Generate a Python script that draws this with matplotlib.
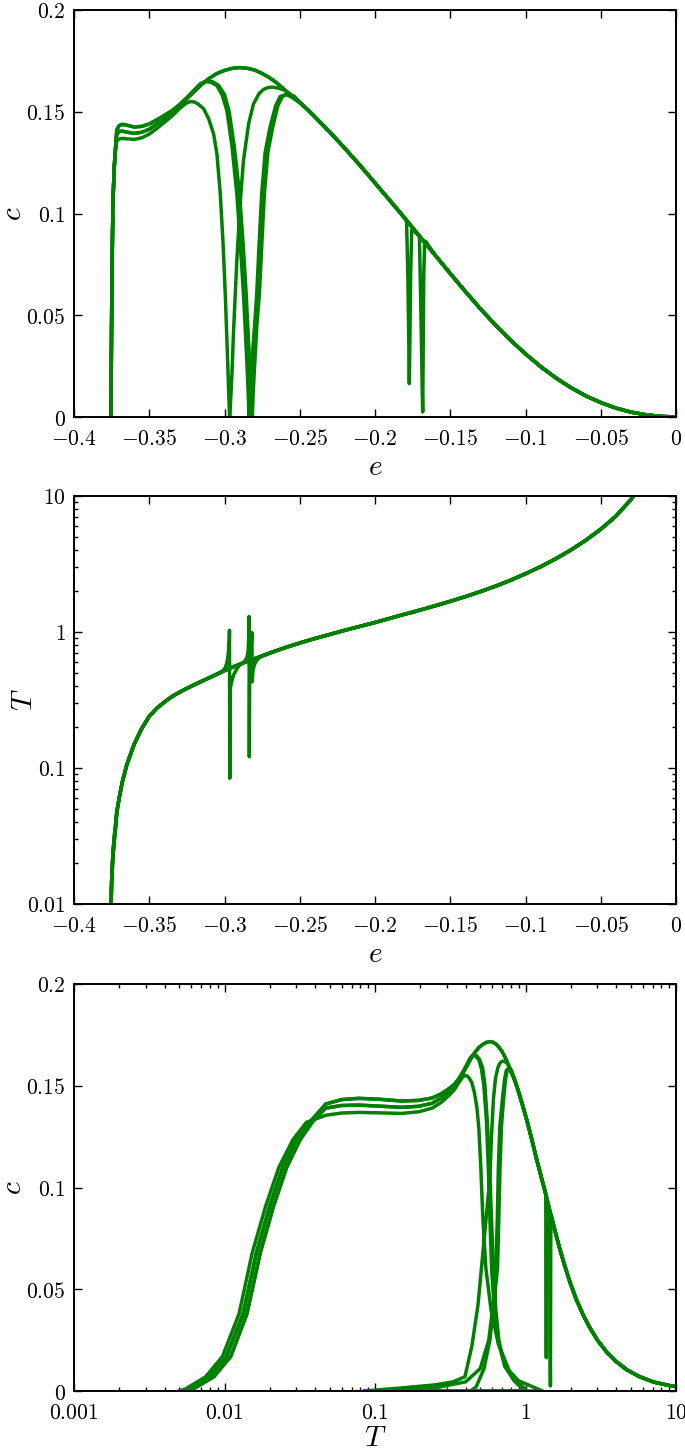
import numpy as np
import matplotlib
matplotlib.use("Agg")
import matplotlib.pyplot as plt
from matplotlib.ticker import FixedLocator, FixedFormatter, LogLocator, NullFormatter

plt.rcParams['mathtext.fontset'] = 'cm'
plt.rcParams['font.family'] = ['DejaVu Serif']

GREEN = '#008000'

# ---------------- data (e = energy, T = temperature, c = specific heat) ----------------
# low-temperature rise (the runs differ slightly in T here)
e_rise = [-0.3755, -0.3755, -0.3754, -0.3753, -0.3751, -0.3748, -0.3744, -0.3739, -0.3732, -0.3724]
c_rise = [0.000, 0.001, 0.007, 0.017, 0.038, 0.068, 0.091, 0.110, 0.1235, 0.132]
T_rise_a = [0.0050, 0.0055, 0.0075, 0.0097, 0.0125, 0.0153, 0.0188, 0.0230, 0.0285, 0.0350]
T_rise_b = [0.0053, 0.0058, 0.0080, 0.0103, 0.0133, 0.0163, 0.0200, 0.0244, 0.0301, 0.0366]
T_rise_c = [0.0056, 0.0062, 0.0085, 0.0110, 0.0141, 0.0173, 0.0212, 0.0259, 0.0318, 0.0382]

# plateau
e_plat = [-0.3716, -0.3700, -0.3680, -0.3650, -0.3600, -0.3550, -0.3500, -0.3450, -0.3400, -0.3350]
T_plat = [0.047, 0.060, 0.078, 0.105, 0.150, 0.195, 0.240, 0.275, 0.305, 0.335]
c_plat_hi = [0.1410, 0.1432, 0.1438, 0.1434, 0.1425, 0.1428, 0.1440, 0.1460, 0.1482, 0.1505]
c_plat_mid = [0.1390, 0.1403, 0.1405, 0.1400, 0.1394, 0.1399, 0.1414, 0.1440, 0.1466, 0.1495]
c_plat_lo = [0.1355, 0.1366, 0.1369, 0.1367, 0.1364, 0.1372, 0.1390, 0.1418, 0.1448, 0.1478]

# common high-energy branch
e_env = [-0.330, -0.325, -0.320, -0.315, -0.310, -0.305, -0.300, -0.295, -0.290, -0.285,
         -0.280, -0.275, -0.270, -0.265, -0.260, -0.255, -0.250, -0.245, -0.240, -0.230,
         -0.220, -0.210, -0.200, -0.190, -0.180, -0.170, -0.160, -0.150, -0.140, -0.130,
         -0.120, -0.110, -0.100, -0.090, -0.080, -0.070, -0.060, -0.050, -0.040, -0.030,
         -0.020, -0.010, -0.003, 0.000]
T_env = [0.360, 0.385, 0.410, 0.435, 0.462, 0.490, 0.520, 0.550, 0.578, 0.607,
         0.637, 0.668, 0.700, 0.732, 0.765, 0.797, 0.830, 0.862, 0.895, 0.960,
         1.030, 1.100, 1.175, 1.260, 1.355, 1.450, 1.560, 1.680, 1.820, 1.980,
         2.170, 2.400, 2.680, 3.020, 3.450, 4.000, 4.720, 5.700, 7.100, 9.400,
         14.0, 25.0, 50.0, 100.0]
c_env = [0.1530, 0.1565, 0.1600, 0.1635, 0.1665, 0.1688, 0.1703, 0.1713, 0.1717, 0.1714,
         0.1705, 0.1688, 0.1667, 0.1640, 0.1608, 0.1575, 0.1545, 0.1512, 0.1475, 0.1400,
         0.1320, 0.1237, 0.1150, 0.1063, 0.0975, 0.0885, 0.0795, 0.0705, 0.0617, 0.0532,
         0.0452, 0.0378, 0.0310, 0.0248, 0.0193, 0.0145, 0.0104, 0.0071, 0.0044, 0.0024,
         0.0011, 0.0003, 0.0001, 0.0000]

# run A: large dip near e = -0.297
e_A = [-0.3350, -0.3300, -0.3255, -0.3226, -0.3200, -0.3175, -0.3139, -0.3105, -0.3072, -0.3050,
       -0.3028, -0.3010, -0.2995, -0.2985, -0.2977, -0.2971, -0.2968, -0.2967, -0.2965, -0.2964,
       -0.2963, -0.2962, -0.2960, -0.2950, -0.2940, -0.2918, -0.2896, -0.2874, -0.2840, -0.2808,
       -0.2770, -0.2740, -0.2710, -0.2680, -0.2640, -0.2600]
T_A = [0.335, 0.360, 0.382, 0.396, 0.410, 0.422, 0.440, 0.458, 0.476, 0.490,
       0.505, 0.520, 0.545, 0.590, 0.660, 0.780, 0.900, 1.030, 0.084, 0.150,
       0.250, 0.330, 0.396, 0.440, 0.483, 0.535, 0.580, 0.595, 0.613, 0.632,
       0.656, 0.675, 0.694, 0.713, 0.738, 0.765]
c_A = [0.1478, 0.1515, 0.1542, 0.1550, 0.1548, 0.1538, 0.1515, 0.1465, 0.1390, 0.1290,
       0.1096, 0.0860, 0.0605, 0.0400, 0.0230, 0.0100, 0.0040, 0.0000, 0.0000, 0.0015,
       0.0030, 0.0045, 0.0070, 0.0220, 0.0420, 0.0769, 0.1050, 0.1260, 0.1440, 0.1537,
       0.1590, 0.1610, 0.1619, 0.1621, 0.1616, 0.1606]

# run B: dip near e = -0.2836
e_B = [-0.3300, -0.3250, -0.3200, -0.3160, -0.3125, -0.3090, -0.3050, -0.3015, -0.2984, -0.2950,
       -0.2918, -0.2895, -0.2874, -0.2860, -0.2850, -0.2843, -0.2839, -0.2837, -0.2835, -0.2834,
       -0.2833, -0.2830, -0.2820, -0.2800, -0.2786, -0.2770, -0.2753, -0.2730, -0.2698, -0.2660,
       -0.2630, -0.2590, -0.2550, -0.2500]
T_B = [0.360, 0.385, 0.410, 0.430, 0.448, 0.467, 0.490, 0.510, 0.528, 0.550,
       0.566, 0.580, 0.595, 0.620, 0.655, 0.730, 0.900, 1.300, 0.121, 0.250,
       0.400, 0.500, 0.570, 0.615, 0.635, 0.650, 0.660, 0.675, 0.700, 0.725,
       0.745, 0.771, 0.797, 0.830]
c_B = [0.1530, 0.1565, 0.1605, 0.1635, 0.1648, 0.1645, 0.1628, 0.1582, 0.1505, 0.1330,
       0.1096, 0.0850, 0.0605, 0.0400, 0.0250, 0.0120, 0.0050, 0.0000, 0.0000, 0.0015,
       0.0045, 0.0110, 0.0250, 0.0450, 0.0605, 0.0850, 0.1096, 0.1300, 0.1423, 0.1530,
       0.1575, 0.1585, 0.1570, 0.1545]

# run C: dip near e = -0.2817
e_C = [-0.3300, -0.3250, -0.3200, -0.3160, -0.3120, -0.3080, -0.3040, -0.3000, -0.2970, -0.2935,
       -0.2900, -0.2876, -0.2856, -0.2842, -0.2832, -0.2825, -0.2821, -0.2818, -0.2816, -0.2814,
       -0.2810, -0.2800, -0.2785, -0.2768, -0.2752, -0.2735, -0.2712, -0.2680, -0.2645, -0.2615,
       -0.2575, -0.2535, -0.2490]
T_C = [0.360, 0.385, 0.410, 0.430, 0.450, 0.472, 0.495, 0.520, 0.537, 0.557,
       0.578, 0.594, 0.612, 0.635, 0.665, 0.730, 0.840, 0.990, 0.430, 0.470,
       0.530, 0.580, 0.620, 0.652, 0.665, 0.677, 0.692, 0.713, 0.736, 0.756,
       0.782, 0.808, 0.837]
c_C = [0.1535, 0.1570, 0.1608, 0.1638, 0.1652, 0.1648, 0.1630, 0.1585, 0.1505, 0.1330,
       0.1096, 0.0850, 0.0605, 0.0400, 0.0250, 0.0120, 0.0050, 0.0000, 0.0000, 0.0020,
       0.0110, 0.0250, 0.0450, 0.0605, 0.0850, 0.1096, 0.1300, 0.1423, 0.1530, 0.1575,
       0.1590, 0.1575, 0.1540]

# run D: narrow dip near e = -0.177
e_D = [-0.1795, -0.1790, -0.1782, -0.1776, -0.1772, -0.1768, -0.1763, -0.1756, -0.1748]
T_D = [1.360, 1.363, 1.368, 1.372, 1.375, 1.378, 1.381, 1.386, 1.393]
c_D = [0.0970, 0.0955, 0.0700, 0.0400, 0.0164, 0.0400, 0.0700, 0.0920, 0.0920]

# run E: narrow dip near e = -0.168
e_E = [-0.1712, -0.1705, -0.1697, -0.1690, -0.1686, -0.1683, -0.1680, -0.1676, -0.1670, -0.1662]
T_E = [1.440, 1.446, 1.452, 1.457, 1.461, 1.464, 1.467, 1.471, 1.477, 1.485]
c_E = [0.0895, 0.0885, 0.0600, 0.0300, 0.0120, 0.0025, 0.0300, 0.0700, 0.0865, 0.0862]

# ---------------- assemble runs from their pieces ----------------
def pick(e, T, c, lo=-np.inf, hi=np.inf):
    e = np.asarray(e); T = np.asarray(T); c = np.asarray(c)
    m = (e > lo) & (e < hi)
    return e[m], T[m], c[m]

def join(*parts):
    return tuple(np.concatenate([np.asarray(p[i]) for p in parts]) for i in range(3))

rise_a = (e_rise, T_rise_a, c_rise)
rise_b = (e_rise, T_rise_b, c_rise)
rise_c = (e_rise, T_rise_c, c_rise)

runs = [
    join(rise_a, pick(e_plat, T_plat, c_plat_lo, hi=-0.337), (e_A, T_A, c_A),
         pick(e_env, T_env, c_env, lo=-0.2575)),
    join(rise_b, pick(e_plat, T_plat, c_plat_mid), (e_B, T_B, c_B),
         pick(e_env, T_env, c_env, lo=-0.2475)),
    join(rise_c, pick(e_plat, T_plat, c_plat_hi), (e_C, T_C, c_C),
         pick(e_env, T_env, c_env, lo=-0.2475)),
    join(rise_b, pick(e_plat, T_plat, c_plat_hi), pick(e_env, T_env, c_env, hi=-0.1797),
         (e_D, T_D, c_D), pick(e_env, T_env, c_env, lo=-0.1745)),
    join(rise_c, pick(e_plat, T_plat, c_plat_mid), pick(e_env, T_env, c_env, hi=-0.1715),
         (e_E, T_E, c_E), pick(e_env, T_env, c_env, lo=-0.166)),
]

# ---------------- figure ----------------
W, H = 685, 1448
fig = plt.figure(figsize=(W / 100, H / 100), dpi=100)

left, right = 74, 676
def box(top, bottom):
    return [left / W, 1 - bottom / H, (right - left) / W, (bottom - top) / H]

ax1 = fig.add_axes(box(10, 417))
ax2 = fig.add_axes(box(496, 904))
ax3 = fig.add_axes(box(984, 1391))

LW = 2.5
for e, T, c in runs:
    ax1.plot(e, c, color=GREEN, lw=LW, solid_joinstyle='round')
    ax2.plot(e, T, color=GREEN, lw=LW, solid_joinstyle='round')
    ax3.plot(T, c, color=GREEN, lw=LW, solid_joinstyle='round')

e_ticks = [-0.4, -0.35, -0.3, -0.25, -0.2, -0.15, -0.1, -0.05, 0.0]
e_labels = ['$-0.4$', '$-0.35$', '$-0.3$', '$-0.25$', '$-0.2$', '$-0.15$', '$-0.1$', '$-0.05$', '$0$']
c_ticks = [0.0, 0.05, 0.1, 0.15, 0.2]
c_labels = ['$0$', '$0.05$', '$0.1$', '$0.15$', '$0.2$']
T_ticks_mid = [0.01, 0.1, 1, 10]
T_labels_mid = ['$0.01$', '$0.1$', '$1$', '$10$']
T_ticks_bot = [0.001, 0.01, 0.1, 1, 10]
T_labels_bot = ['$0.001$', '$0.01$', '$0.1$', '$1$', '$10$']

TICKFS = 15.5
LABFS = 21

def style(ax):
    for s in ax.spines.values():
        s.set_linewidth(1.4)
    ax.tick_params(which='both', direction='in', top=True, right=True, width=1.0,
                   labelsize=TICKFS)
    ax.tick_params(axis='x', which='both', pad=8)
    ax.tick_params(axis='y', which='both', pad=6)
    ax.tick_params(which='major', length=5.5)
    ax.tick_params(which='minor', length=3)

# top
ax1.set_xlim(-0.4, 0)
ax1.set_ylim(0, 0.2)
ax1.xaxis.set_major_locator(FixedLocator(e_ticks))
ax1.xaxis.set_major_formatter(FixedFormatter(e_labels))
ax1.yaxis.set_major_locator(FixedLocator(c_ticks))
ax1.yaxis.set_major_formatter(FixedFormatter(c_labels))
style(ax1)
ax1.set_xlabel('$e$', fontsize=LABFS)
ax1.set_ylabel('$c$', fontsize=LABFS)
ax1.xaxis.set_label_coords(0.5, -0.088)
ax1.yaxis.set_label_coords(-0.078, 0.5)

# middle
ax2.set_yscale('log')
ax2.set_xlim(-0.4, 0)
ax2.set_ylim(0.01, 10)
ax2.xaxis.set_major_locator(FixedLocator(e_ticks))
ax2.xaxis.set_major_formatter(FixedFormatter(e_labels))
ax2.yaxis.set_major_locator(FixedLocator(T_ticks_mid))
ax2.yaxis.set_major_formatter(FixedFormatter(T_labels_mid))
ax2.yaxis.set_minor_locator(LogLocator(base=10, subs=range(2, 10)))
ax2.yaxis.set_minor_formatter(NullFormatter())
style(ax2)
ax2.set_xlabel('$e$', fontsize=LABFS)
ax2.set_ylabel('$T$', fontsize=LABFS)
ax2.xaxis.set_label_coords(0.5, -0.088)
ax2.yaxis.set_label_coords(-0.060, 0.5)

# bottom
ax3.set_xscale('log')
ax3.set_xlim(0.001, 10)
ax3.set_ylim(0, 0.2)
ax3.xaxis.set_major_locator(FixedLocator(T_ticks_bot))
ax3.xaxis.set_major_formatter(FixedFormatter(T_labels_bot))
ax3.xaxis.set_minor_locator(LogLocator(base=10, subs=range(2, 10)))
ax3.xaxis.set_minor_formatter(NullFormatter())
ax3.yaxis.set_major_locator(FixedLocator(c_ticks))
ax3.yaxis.set_major_formatter(FixedFormatter(c_labels))
style(ax3)
ax3.set_xlabel('$T$', fontsize=21)
ax3.set_ylabel('$c$', fontsize=LABFS)
ax3.xaxis.set_label_coords(0.5, -0.080)
ax3.yaxis.set_label_coords(-0.078, 0.5)

fig.savefig('out.png', dpi=100)
